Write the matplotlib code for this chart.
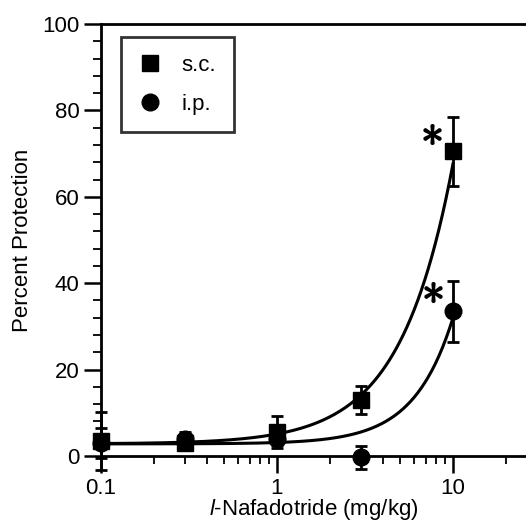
import numpy as np
import matplotlib.pyplot as plt
from matplotlib.lines import Line2D
from matplotlib.ticker import MultipleLocator, FixedLocator, NullFormatter

plt.rcParams['font.family'] = ['Liberation Sans', 'DejaVu Sans']
plt.rcParams['mathtext.fontset'] = 'custom'
plt.rcParams['mathtext.it'] = 'Liberation Sans:italic'
plt.rcParams['mathtext.rm'] = 'Liberation Sans'

# dose (mg/kg)
dose = [0.1, 0.3, 1, 3, 10]

# s.c. route
sc_mean = [3.5, 3.0, 5.5, 13.0, 70.5]
sc_err = [6.7, 1.5, 3.7, 3.3, 8.0]

# i.p. route
ip_mean = [3.0, 4.0, 4.0, -0.3, 33.5]
ip_err = [3.5, 1.5, 1.5, 2.6, 7.0]

# fitted curves y = a + b * x**n
sc_fit = (2.8, 2.3, 1.45)
ip_fit = (2.8, 0.32, 1.96)

# significance marks
star_x = [7.6, 7.7]
star_y = [74.5, 38.0]

fig = plt.figure(figsize=(5.26, 5.23), dpi=100)
ax = fig.add_axes([101/526, 67/523, 425/526, 432/523])

xs = np.logspace(-1, 1, 200)
for a, b, n in (sc_fit, ip_fit):
    ax.plot(xs, a + b * xs**n, color='black', lw=2.2, zorder=2)

ax.errorbar(dose, sc_mean, yerr=sc_err, fmt='s', color='black', ms=11,
            capsize=4.5, elinewidth=2, capthick=2, clip_on=False, zorder=3)
ax.errorbar(dose, ip_mean, yerr=ip_err, fmt='o', color='black', ms=12,
            capsize=4.5, elinewidth=2, capthick=2, clip_on=False, zorder=3)

ax.plot(star_x, star_y, linestyle='none', marker=r'$\ast$', ms=14,
        color='black', mew=1.2, clip_on=False)

ax.set_xscale('log')
ax.set_xlim(0.1, 26)
ax.set_ylim(0, 100)
ax.set_xticks([0.1, 1, 10])
ax.set_xticklabels(['0.1', '1', '10'])
ax.xaxis.set_minor_locator(FixedLocator(
    [m * 10.0**e for e in (-1, 0, 1) for m in range(2, 10)]))
ax.xaxis.set_minor_formatter(NullFormatter())
ax.yaxis.set_major_locator(MultipleLocator(20))
ax.yaxis.set_minor_locator(MultipleLocator(4))

ax.tick_params(which='major', length=12, width=1.8, labelsize=16, direction='out')
ax.tick_params(which='minor', length=6, width=1.3, direction='out')
for s in ('left', 'bottom', 'top'):
    ax.spines[s].set_linewidth(2)
ax.spines['right'].set_visible(False)

ax.set_xlabel(r'$\mathit{l}$-Nafadotride (mg/kg)', fontsize=16, labelpad=-1)
ax.set_ylabel('Percent Protection', fontsize=16, labelpad=7)

handles = [Line2D([], [], marker='s', ls='none', color='black', ms=11),
           Line2D([], [], marker='o', ls='none', color='black', ms=12)]
leg = ax.legend(handles, ['s.c.', 'i.p.'], loc='upper left',
                bbox_to_anchor=(0.048, 0.97), frameon=True,
                fancybox=False, edgecolor='black', fontsize=16, handlelength=1.0,
                handletextpad=0.9, labelspacing=0.8, borderpad=0.8,
                borderaxespad=0)
leg.get_frame().set_linewidth(2)

fig.savefig('out.png', dpi=100)
